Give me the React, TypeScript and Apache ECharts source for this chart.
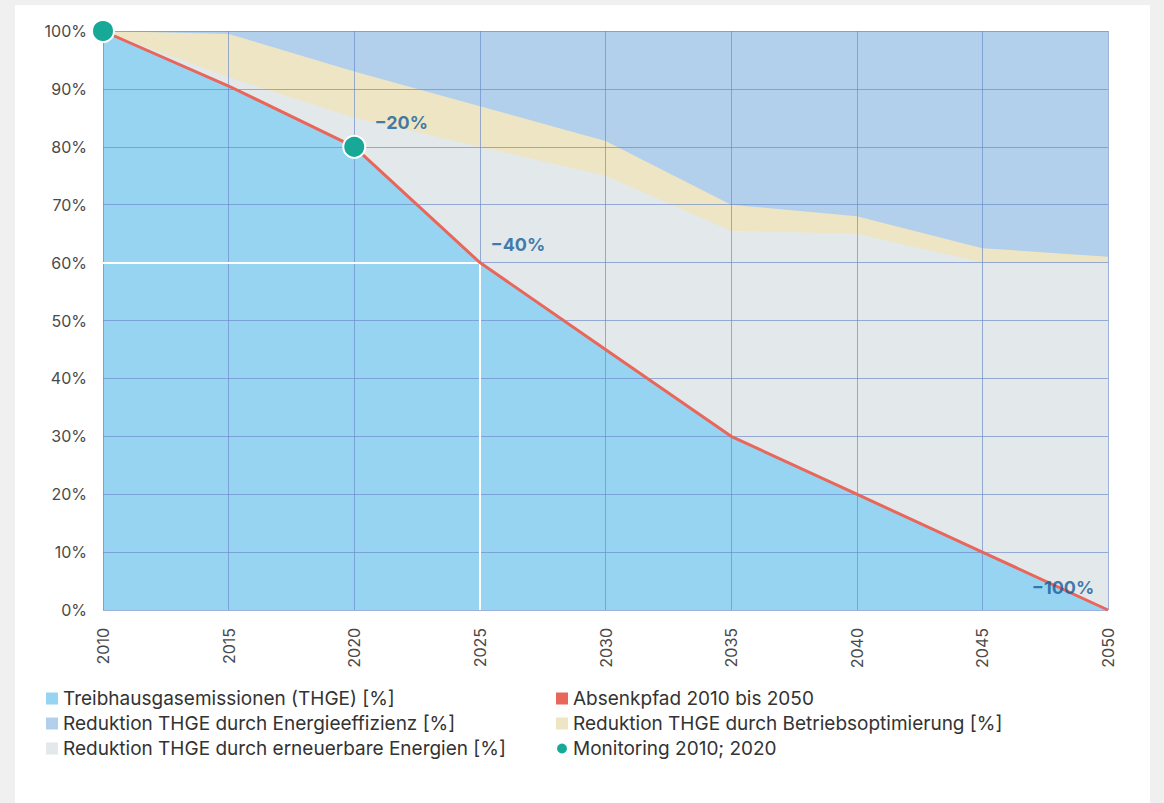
import React, { useEffect, useRef } from "react";
import * as echarts from "echarts";

const years = [2010, 2015, 2020, 2025, 2030, 2035, 2040, 2045, 2050];
const thge = [100, 90.5, 80, 60, 45, 30, 20, 10, 0];
const erneuerbar = [0, 1.5, 5, 20, 30, 35.5, 45, 50, 60];
const betrieb = [0, 7.5, 8, 7, 6, 4.5, 3, 2.5, 1];
const effizienz = [0, 0.5, 7, 13, 19, 30, 32, 37.5, 39];
const absenkpfad = [100, 90.5, 80, 60, 45, 30, 20, 10, 0];
const monitoringYears = [2010, 2020];
const monitoringValues = [100, 80];
const annotationYears = [2020, 2025, 2050];
const annotationValues = [80, 60, 0];
const annotationTexts = ["−20%", "−40%", "−100%"];
const refYear = 2025;
const refValue = 60;

const names = {
  thge: "Treibhausgasemissionen (THGE) [%]",
  eff: "Reduktion THGE durch Energieeffizienz [%]",
  ern: "Reduktion THGE durch erneuerbare Energien [%]",
  pfad: "Absenkpfad 2010 bis 2050",
  betr: "Reduktion THGE durch Betriebsoptimierung [%]",
  mon: "Monitoring 2010; 2020",
};

const C = {
  thge: "#97d4f1",
  eff: "#b2d0ec",
  betr: "#eee5c5",
  ern: "#e3e8ea",
  pfad: "#e8665a",
  mon: "#17a898",
  grid: "rgba(105,135,200,0.65)",
  ann: "#125d9c",
};

const FONT = "Inter, 'Noto Sans', sans-serif";

export default function App() {
  const ref = useRef<HTMLDivElement>(null);
  useEffect(() => {
    if (!ref.current) return;
    const chart = echarts.init(ref.current, null, { renderer: "svg" });
    // cumulative tops of the stacked bands (built from the component arrays)
    const layers = [thge, erneuerbar, betrieb, effizienz];
    const cum = layers.map((_, li) =>
      years.map((_, i) => layers.slice(0, li + 1).reduce((s, arr) => s + arr[i], 0))
    );
    const pairs = (vals: number[]) => years.map((y, i) => [y, vals[i]]);
    const area = (name: string, vals: number[], color: string, z: number) => ({
      name,
      type: "line",
      data: pairs(vals),
      showSymbol: false,
      symbol: "none",
      lineStyle: { width: 0, color },
      itemStyle: { color },
      areaStyle: { color, opacity: 1, origin: "start" },
      z,
      silent: true,
    });
    const offsets: [number, number][] = [
      [47, -24],
      [38, -18],
      [-45, -23],
    ];
    const legendText = { fontSize: 19, color: "#333", fontFamily: FONT };
    chart.setOption({
      animation: false,
      backgroundColor: "#ffffff",
      textStyle: { fontFamily: FONT },
      grid: { left: 88, right: 42, top: 26, bottom: 193 },
      xAxis: {
        type: "value",
        min: 2010,
        max: 2050,
        interval: 5,
        z: 3,
        axisLine: { show: false },
        axisTick: { show: false },
        axisLabel: {
          rotate: 90,
          margin: 18,
          fontSize: 16,
          color: "#4a4a4a",
          fontFamily: FONT,
          formatter: (v: number) => String(v),
        },
        splitLine: { show: true, lineStyle: { color: C.grid, width: 1 } },
      },
      yAxis: {
        type: "value",
        min: 0,
        max: 100,
        interval: 10,
        z: 3,
        axisLine: { show: false },
        axisTick: { show: false },
        axisLabel: {
          margin: 16,
          fontSize: 16,
          color: "#4a4a4a",
          fontFamily: FONT,
          formatter: "{value}%",
        },
        splitLine: { show: true, lineStyle: { color: C.grid, width: 1 } },
      },
      legend: [
        {
          orient: "vertical",
          left: 31,
          top: 684,
          padding: 0,
          itemWidth: 12,
          itemHeight: 12,
          itemGap: 6,
          textStyle: legendText,
          data: [
            { name: names.thge, icon: "rect" },
            { name: names.eff, icon: "rect" },
            { name: names.ern, icon: "rect" },
          ],
        },
        {
          orient: "vertical",
          left: 540,
          top: 684,
          padding: 0,
          itemWidth: 12,
          itemHeight: 12,
          itemGap: 6,
          textStyle: legendText,
          data: [
            { name: names.pfad, icon: "rect" },
            { name: names.betr, icon: "rect" },
            { name: names.mon, icon: "circle" },
          ],
        },
      ],
      series: [
        area(names.eff, cum[3], C.eff, 1),
        area(names.betr, cum[2], C.betr, 1),
        area(names.ern, cum[1], C.ern, 1),
        area(names.thge, cum[0], C.thge, 1),
        {
          name: "ref",
          type: "line",
          data: [],
          z: 4,
          silent: true,
          markLine: {
            silent: true,
            symbol: "none",
            label: { show: false },
            lineStyle: { color: "#ffffff", width: 2, type: "solid" },
            data: [
              [{ coord: [2010, refValue] }, { coord: [refYear, refValue] }],
              [{ coord: [refYear, 0] }, { coord: [refYear, refValue] }],
            ],
          },
        },
        {
          name: names.pfad,
          type: "line",
          data: pairs(absenkpfad),
          showSymbol: false,
          symbol: "none",
          lineStyle: { color: C.pfad, width: 3 },
          itemStyle: { color: C.pfad },
          z: 5,
        },
        {
          name: "annotations",
          type: "scatter",
          symbolSize: 0,
          z: 6,
          silent: true,
          data: annotationYears.map((y, i) => ({
            value: [y, annotationValues[i]],
            label: {
              show: true,
              position: "inside",
              offset: offsets[i],
              formatter: annotationTexts[i],
              fontSize: 18,
              fontWeight: "bold",
              color: C.ann,
              fontFamily: FONT,
            },
          })),
        },
        {
          name: names.mon,
          type: "scatter",
          data: monitoringYears.map((y, i) => [y, monitoringValues[i]]),
          symbolSize: 22,
          itemStyle: { color: C.mon, borderColor: "#ffffff", borderWidth: 2, opacity: 1 },
          z: 7,
        },
      ],
    });
    return () => chart.dispose();
  }, []);
  return (
    <div
      style={{
        position: "absolute",
        left: 0,
        top: 0,
        width: 1164,
        height: 803,
        background: "#f0f0f0",
        overflow: "hidden",
      }}
    >
      <div
        ref={ref}
        style={{ position: "absolute", left: 15, top: 5, width: 1135, height: 798 }}
      />
    </div>
  );
}
